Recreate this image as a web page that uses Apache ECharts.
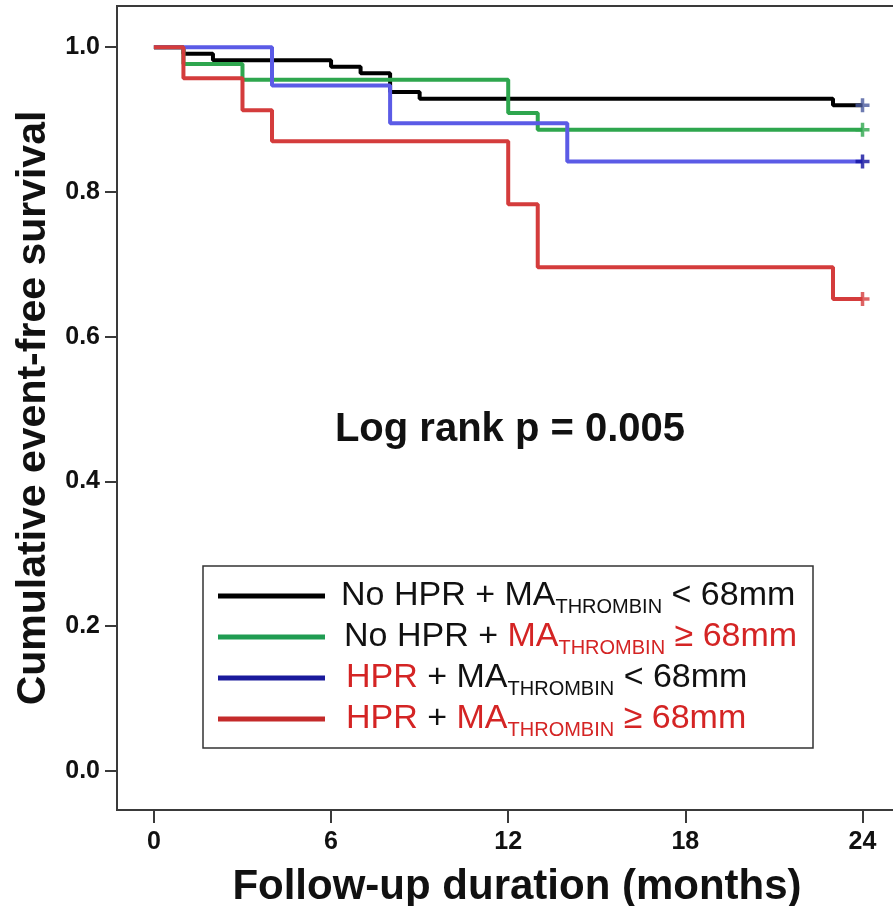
<!DOCTYPE html>
<html>
<head>
<meta charset="utf-8">
<script src="https://cdn.jsdelivr.net/npm/echarts@6/dist/echarts.min.js"></script>
<style>
  html, body { margin: 0; padding: 0; background: #ffffff; }
  #chart { width: 893px; height: 906px; }
</style>
</head>
<body>
<div id="chart"></div>
<script>
// Kaplan–Meier curves of event-free survival by platelet reactivity group
const FONT = '"Liberation Sans", Arial, Helvetica, sans-serif';

const xTicks = [0, 6, 12, 18, 24];
const yTicks = [0, 0.2, 0.4, 0.6, 0.8, 1.0];

const groupNames = [
  'No HPR + MA-THROMBIN < 68mm',
  'No HPR + MA-THROMBIN ≥ 68mm',
  'HPR + MA-THROMBIN < 68mm',
  'HPR + MA-THROMBIN ≥ 68mm'
];

// event times (months) and survival estimate after each step
const noHprLowTime  = [0, 1, 2, 6, 7, 8, 9, 23, 24];
const noHprLowSurv  = [1, 0.991, 0.982, 0.973, 0.964, 0.938, 0.929, 0.920, 0.920];

const noHprHighTime = [0, 1, 3, 12, 13, 24];
const noHprHighSurv = [1, 0.977, 0.955, 0.909, 0.886, 0.886];

const hprLowTime    = [0, 4, 8, 14, 24];
const hprLowSurv    = [1, 0.947, 0.895, 0.842, 0.842];

const hprHighTime   = [0, 1, 3, 4, 12, 13, 23, 24];
const hprHighSurv   = [1, 0.957, 0.913, 0.870, 0.783, 0.696, 0.652, 0.652];

const curveColors  = ['#000000', '#2ea64e', '#5b5be6', '#d43c3c'];
const legendColors = ['#000000', '#1f9c52', '#1a1a9c', '#c42a2a'];
const censorColors = ['#4a5a9e', '#2ea64e', '#10109e', '#d43c3c'];

const groupTimes = [noHprLowTime, noHprHighTime, hprLowTime, hprHighTime];
const groupSurv  = [noHprLowSurv, noHprHighSurv, hprLowSurv, hprHighSurv];

const RED_TEXT = '#d42424';

// rich-text legend labels with subscript "THROMBIN"
const legendRich = [
  '{k0|No HPR + MA}{ks|THROMBIN}{k| < 68mm}',
  '{k1|No HPR + }{r|MA}{rs|THROMBIN}{r| ≥ 68mm}',
  '{r2|HPR}{k| + MA}{ks|THROMBIN}{k| < 68mm}',
  '{r2|HPR}{k| + }{r|MA}{rs|THROMBIN}{r| ≥ 68mm}'
];

const MAIN = 34, SUB = 20, LH = 42;
const richStyles = {
  k:  { color: '#111', fontSize: MAIN, fontFamily: FONT, lineHeight: LH },
  k0: { color: '#111', fontSize: MAIN, fontFamily: FONT, lineHeight: LH, padding: [0, 0, 0, 11] },
  k1: { color: '#111', fontSize: MAIN, fontFamily: FONT, lineHeight: LH, padding: [0, 0, 0, 14] },
  r:  { color: RED_TEXT, fontSize: MAIN, fontFamily: FONT, lineHeight: LH },
  r2: { color: RED_TEXT, fontSize: MAIN, fontFamily: FONT, lineHeight: LH, padding: [0, 0, 0, 16] },
  ks: { color: '#111', fontSize: SUB, fontFamily: FONT, lineHeight: LH, verticalAlign: 'bottom' },
  rs: { color: RED_TEXT, fontSize: SUB, fontFamily: FONT, lineHeight: LH, verticalAlign: 'bottom' }
};

const curveSeries = groupNames.map((name, i) => ({
  name: name,
  type: 'line',
  step: 'end',
  showSymbol: false,
  symbol: 'none',
  data: groupTimes[i].map((t, j) => [t, groupSurv[i][j]]),
  lineStyle: { color: curveColors[i], width: 4 },
  itemStyle: { color: curveColors[i] },
  z: 2 + i
}));

// censoring marks at the end of follow-up
const plusPath = 'path://M4.5,0h3v4.5h4.5v3h-4.5v4.5h-3v-4.5h-4.5v-3h4.5z';
const censorSeries = {
  name: 'censored',
  type: 'scatter',
  symbol: plusPath,
  symbolSize: 14,
  z: 10,
  data: groupNames.map((n, i) => ({
    value: [groupTimes[i][groupTimes[i].length - 1], groupSurv[i][groupSurv[i].length - 1]],
    itemStyle: { color: censorColors[i] }
  }))
};

const chart = echarts.init(document.getElementById('chart'), null, { renderer: 'canvas' });

chart.setOption({
  animation: false,
  backgroundColor: '#ffffff',
  grid: {
    left: 117, top: 6, right: -2, bottom: 96,
    outerBoundsMode: 'none',
    containLabel: false,
    show: true, borderColor: '#3a3a3a', borderWidth: 2, backgroundColor: 'transparent'
  },
  xAxis: {
    type: 'value',
    min: -1.25, max: 25.1,
    name: 'Follow-up duration (months)',
    nameLocation: 'middle',
    nameGap: 56,
    nameTextStyle: {
      fontFamily: FONT, fontWeight: 'bold', fontSize: 42, color: '#111',
      padding: [0, 0, 0, 22]
    },
    axisLine: { show: true, onZero: false, lineStyle: { color: '#3a3a3a', width: 2 } },
    axisTick: { show: true, length: 13, customValues: xTicks, lineStyle: { color: '#3a3a3a', width: 2 } },
    axisLabel: {
      customValues: xTicks, margin: 20,
      fontFamily: FONT, fontWeight: 'bold', fontSize: 25, color: '#111'
    },
    splitLine: { show: false }
  },
  yAxis: {
    type: 'value',
    min: -0.054, max: 1.057,
    name: 'Cumulative event-free survival',
    nameLocation: 'middle',
    nameGap: 62,
    nameTextStyle: { fontFamily: FONT, fontWeight: 'bold', fontSize: 41, color: '#111' },
    axisLine: { show: true, onZero: false, lineStyle: { color: '#3a3a3a', width: 2 } },
    axisTick: { show: true, length: 12, customValues: yTicks, lineStyle: { color: '#3a3a3a', width: 2 } },
    axisLabel: {
      customValues: yTicks, margin: 17,
      formatter: v => v.toFixed(1),
      fontFamily: FONT, fontWeight: 'bold', fontSize: 25, color: '#111'
    },
    splitLine: { show: false }
  },
  legend: {
    orient: 'vertical',
    left: 218, top: 579,
    padding: 0,
    itemGap: 3,
    itemWidth: 107,
    itemHeight: 5,
    selectedMode: false,
    data: groupNames.map((n, i) => ({
      name: n, icon: 'rect',
      itemStyle: { color: legendColors[i] }
    })),
    formatter: name => legendRich[groupNames.indexOf(name)],
    textStyle: { rich: richStyles }
  },
  graphic: [
    {
      type: 'rect', z: 0,
      shape: { x: 203, y: 566, width: 610, height: 182 },
      style: { fill: '#ffffff', stroke: '#333333', lineWidth: 1.5 }
    },
    {
      type: 'text', z: 20,
      x: 510, y: 430,
      style: {
        text: 'Log rank p = 0.005',
        fontFamily: FONT, fontWeight: 'bold', fontSize: 40, fill: '#111',
        align: 'center', verticalAlign: 'middle'
      }
    }
  ],
  series: curveSeries.concat([censorSeries])
});
</script>
</body>
</html>
